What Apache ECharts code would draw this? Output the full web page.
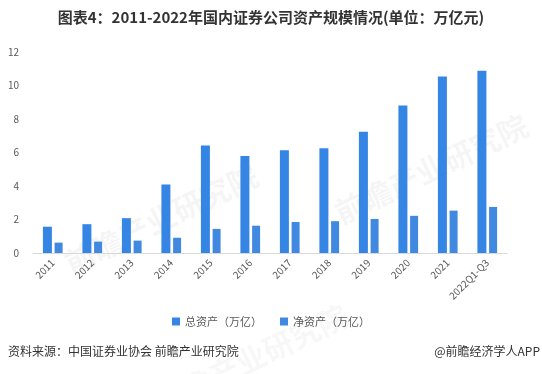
<!DOCTYPE html>
<html><head><meta charset="utf-8">
<script src="https://cdn.jsdelivr.net/npm/echarts@6/dist/echarts.min.js"></script>
<style>html,body{margin:0;padding:0;background:#fff}#c{width:542px;height:374px}</style>
</head><body><div id="c"></div>
<script>
const categories = ['2011','2012','2013','2014','2015','2016','2017','2018','2019','2020','2021','2022Q1-Q3'];
const totalAssets = [1.57, 1.72, 2.08, 4.09, 6.42, 5.79, 6.14, 6.26, 7.24, 8.8, 10.53, 10.88];
const netAssets = [0.62, 0.68, 0.74, 0.91, 1.44, 1.63, 1.85, 1.90, 2.03, 2.22, 2.53, 2.75];
const yTicks = [0, 2, 4, 6, 8, 10, 12];
const seriesNames = ['总资产（万亿）', '净资产（万亿）'];
const titleText = '图表4：2011-2022年国内证券公司资产规模情况(单位：万亿元)';
const sourceText = '资料来源：中国证券业协会 前瞻产业研究院';
const brandText = '@前瞻经济学人APP';

const font = '"Noto Sans CJK SC", "Noto Sans", sans-serif';
const chart = echarts.init(document.getElementById('c'), null, {renderer: 'canvas'});
chart.setOption({
  backgroundColor: '#fff',
  animation: false,
  textStyle: {fontFamily: font},
  title: {
    text: titleText, left: 'center', top: 5,
    textStyle: {fontSize: 15, fontWeight: 'bold', color: '#333', fontFamily: font}
  },
  graphic: [
    {type: 'text', left: 8, top: 345, style: {text: sourceText, fontSize: 12, fill: '#333', fontFamily: font}},
    {type: 'text', right: 2, top: 345, style: {text: brandText, fontSize: 12, fill: '#333', fontFamily: font}},
    {type: 'text', left: 60, top: 160, rotation: Math.PI/7, style: {text: '前瞻产业研究院', fontSize: 30, fontWeight: 'bold', fill: 'rgba(0,0,0,0.04)', fontFamily: font}},
    {type: 'text', left: 330, top: 110, rotation: Math.PI/7, style: {text: '前瞻产业研究院', fontSize: 30, fontWeight: 'bold', fill: 'rgba(0,0,0,0.04)', fontFamily: font}},
    {type: 'text', left: 150, top: 300, rotation: Math.PI/7, style: {text: '前瞻产业研究院', fontSize: 30, fontWeight: 'bold', fill: 'rgba(0,0,0,0.03)', fontFamily: font}}
  ],
  legend: {
    data: seriesNames, bottom: 42, left: 'center',
    itemWidth: 8, itemHeight: 8, itemGap: 18, icon: 'rect',
    textStyle: {fontSize: 11, color: '#595959', fontFamily: font}
  },
  grid: {left: 33, right: 35, top: 52, bottom: 121},
  xAxis: {
    type: 'category', data: categories,
    axisLine: {lineStyle: {color: '#d9d9d9'}},
    axisTick: {show: false},
    axisLabel: {rotate: 45, fontSize: 10, color: '#595959', interval: 0, margin: 8, fontFamily: font}
  },
  yAxis: {
    type: 'value', min: yTicks[0], max: yTicks[yTicks.length-1], interval: 2,
    axisLine: {show: false}, axisTick: {show: false},
    splitLine: {show: false},
    axisLabel: {fontSize: 10, color: '#595959', margin: 14, fontFamily: font}
  },
  series: [
    {name: seriesNames[0], type: 'bar', data: totalAssets, barWidth: 9, barGap: '30%', itemStyle: {color: '#3585e5'}},
    {name: seriesNames[1], type: 'bar', data: netAssets, barWidth: 8, itemStyle: {color: '#4189e0'}}
  ]
});
</script></body></html>
